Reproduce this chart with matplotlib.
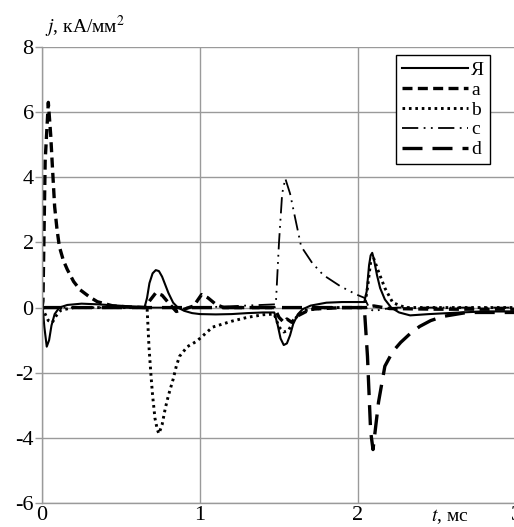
import matplotlib
matplotlib.use("Agg")
import matplotlib.pyplot as plt

plt.rcParams["font.family"] = ["Liberation Serif", "DejaVu Serif"]
plt.rcParams["axes.unicode_minus"] = False

# --- series (t in ms, j in kA/mm2) ---
t_ya = [0, 0.006, 0.015, 0.03, 0.045, 0.06, 0.08, 0.11, 0.16, 0.25, 0.35, 0.45,
        0.55, 0.65, 0.665, 0.68, 0.70, 0.72, 0.74, 0.76, 0.78, 0.80, 0.83, 0.86,
        0.90, 0.95, 1.0, 1.1, 1.2, 1.3, 1.4, 1.47, 1.49, 1.51, 1.53, 1.55, 1.57,
        1.59, 1.62, 1.65, 1.7, 1.8, 1.9, 2.04, 2.055, 2.07, 2.08, 2.09, 2.10,
        2.12, 2.14, 2.17, 2.21, 2.26, 2.33, 2.45, 2.65, 2.8, 3.0]
j_ya = [0, -0.1, -0.6, -1.2, -1.0, -0.55, -0.2, 0.0, 0.08, 0.12, 0.1, 0.07,
        0.04, 0.02, 0.3, 0.75, 1.05, 1.15, 1.12, 0.95, 0.7, 0.45, 0.15, 0.0,
        -0.1, -0.17, -0.2, -0.21, -0.2, -0.17, -0.15, -0.15, -0.5, -0.95, -1.15, -1.1,
        -0.85, -0.5, -0.2, -0.05, 0.06, 0.15, 0.17, 0.17, 0.5, 1.3, 1.6, 1.68, 1.5,
        1.0, 0.6, 0.25, 0.0, -0.15, -0.24, -0.2, -0.15, -0.12, -0.12]

t_a = [0, 0.006, 0.02, 0.04, 0.055, 0.065, 0.08, 0.095, 0.11, 0.135, 0.16, 0.2,
       0.24, 0.3, 0.35, 0.45, 0.55, 0.65, 0.68, 0.72, 0.76, 0.80, 0.85, 0.9,
       0.96, 1.01, 1.05, 1.1, 1.15, 1.3, 1.47, 1.5, 1.53, 1.55, 1.58, 1.62, 1.7,
       1.9, 2.05, 2.1, 2.2, 2.5, 3.0]
j_a = [0, 0.2, 4.5, 6.3, 5.3, 4.4, 3.1, 2.4, 1.87, 1.45, 1.17, 0.8,
       0.55, 0.33, 0.18, 0.05, 0.02, 0.0, 0.2, 0.45, 0.38, 0.15, -0.12, -0.05,
       0.05, 0.4, 0.3, 0.1, 0.0, 0.0, 0.0, -0.3, -0.45, -0.35, -0.45, -0.25, -0.05,
       0.0, 0.0, 0.05, -0.03, -0.05, -0.05]

t_b = [0, 0.02, 0.04, 0.065, 0.09, 0.12, 0.2, 0.4, 0.6, 0.665, 0.677, 0.69,
       0.70, 0.715, 0.73, 0.74, 0.76, 0.78, 0.80, 0.83, 0.85, 0.87, 0.92, 0.98,
       1.08, 1.2, 1.3, 1.4, 1.47, 1.5, 1.53, 1.56, 1.6, 1.65, 1.8, 2.04, 2.06,
       2.08, 2.1, 2.13, 2.17, 2.22, 2.3, 2.6, 3.0]
j_b = [0, -0.2, -0.4, -0.46, -0.25, -0.08, 0.0, 0.0, 0.0, 0.0, -1.2, -2.1,
       -2.7, -3.4, -3.75, -3.87, -3.6, -3.1, -2.7, -2.2, -1.8, -1.5, -1.2, -1.03,
       -0.6, -0.42, -0.3, -0.22, -0.2, -0.6, -0.75, -0.7, -0.35, -0.1, 0.0, 0.0, 0.6,
       1.4, 1.5, 1.1, 0.6, 0.15, 0.0, 0.0, 0.0]

t_c = [0, 0.5, 1.0, 1.48, 1.50, 1.52, 1.54, 1.57, 1.60, 1.64, 1.71, 1.78,
       1.89, 1.99, 2.04, 2.07, 2.1, 2.15, 2.25, 3.0]
j_c = [0, 0, 0, 0.1, 2.0, 3.5, 3.96, 3.5, 2.8, 1.88, 1.37, 1.0,
       0.65, 0.4, 0.3, 0.0, -0.12, -0.05, 0.0, 0.0]

t_d = [0, 1.0, 2.04, 2.06, 2.08, 2.095, 2.13, 2.17, 2.22, 2.27, 2.33, 2.39,
       2.46, 2.54, 2.69, 3.0]
j_d = [0, 0, 0, -1.5, -3.8, -4.36, -2.9, -1.8, -1.35, -1.07, -0.8, -0.58,
       -0.4, -0.27, -0.15, -0.15]

labels = ["Я", "a", "b", "c", "d"]

fig = plt.figure(figsize=(5.14, 5.27), dpi=100)
ax = fig.add_axes([42 / 514, 1 - 503 / 527, 474 / 514, 456 / 527])

ax.plot(t_ya, j_ya, color="black", lw=1.5, ls="-", label=labels[0])
ax.plot(t_a, j_a, color="black", lw=2.4, ls=(0, (3, 1.6)), label=labels[1])
ax.plot(t_b, j_b, color="black", lw=2.1, ls=(0, (0.9, 1.3)), label=labels[2])
ax.plot(t_c, j_c, color="black", lw=1.3, ls=(0, (9, 3, 1, 3, 1, 3)), label=labels[3])
ax.plot(t_d, j_d, color="black", lw=2.4, ls=(0, (6, 3)), label=labels[4])

ax.set_xlim(0, 3)
ax.set_ylim(-6, 8)
ax.set_xticks([0, 1, 2, 3])
ax.set_yticks(range(-6, 9, 2))
ax.grid(True, color="#9a9a9a", lw=1.0)
ax.set_axisbelow(True)
for side in ["top", "right"]:
    ax.spines[side].set_visible(False)
for side in ["left", "bottom"]:
    ax.spines[side].set_color("#9a9a9a")
    ax.spines[side].set_linewidth(1.0)
ax.tick_params(axis="both", colors="#9a9a9a", labelcolor="black",
               labelsize=16, length=5, width=1.0, pad=1)
ax.tick_params(axis="x", length=0, pad=2)

ax.text(0.02, 8.43, "$j$, кА/мм$^2$", fontsize=14, ha="left", va="baseline",
        math_fontfamily="stix")
fig.text(431 / 514, 6 / 527, "$t$, мс", fontsize=14, ha="left", va="baseline",
         math_fontfamily="stix")

leg = ax.legend(loc="upper right", bbox_to_anchor=(0.945, 0.982), fontsize=14,
                handlelength=3.4, handletextpad=0.15, labelspacing=0.12,
                borderpad=0.3, borderaxespad=0, fancybox=False, framealpha=1)
leg.get_frame().set_edgecolor("black")
leg.get_frame().set_linewidth(1.0)

fig.savefig("out.png", dpi=100)
